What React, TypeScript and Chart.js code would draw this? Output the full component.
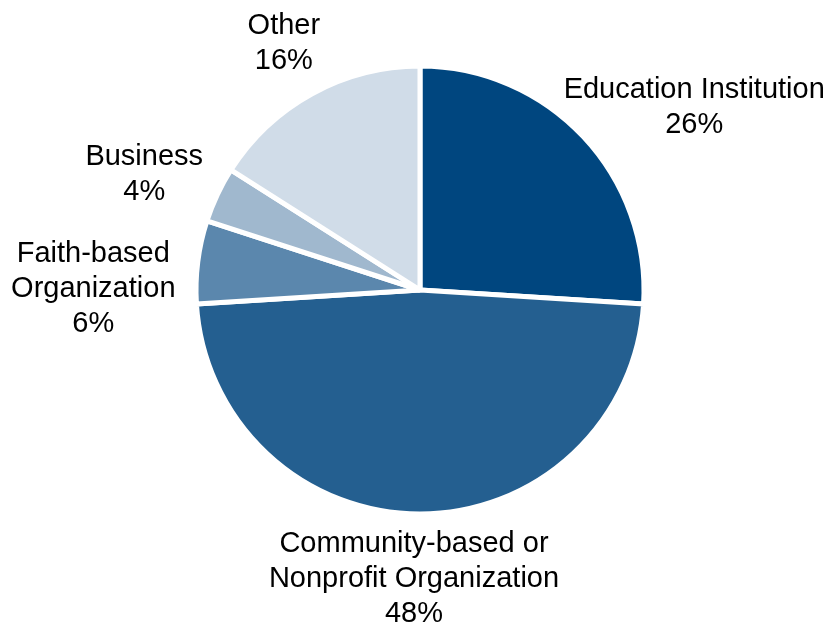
import React, { useEffect, useRef } from "react";
import { Chart, registerables } from "chart.js";

Chart.register(...registerables);

const categories: string[][] = [
  ["Education Institution"],
  ["Community-based or", "Nonprofit Organization"],
  ["Faith-based", "Organization"],
  ["Business"],
  ["Other"],
];
const shares: number[] = [26, 48, 6, 4, 16];
const sliceColors: string[] = ["#00467f", "#245f90", "#5b87ad", "#a0b8ce", "#d0dce8"];

// small per-label nudges (layout only)
const labelNudge: [number, number][] = [
  [7, 3],
  [-6, 0],
  [-11, 35],
  [-9, 0],
  [-5, -9],
];

const FONT = '29px "Liberation Sans", Arial, sans-serif';
const LINE_H = 35;

const outsideLabels = {
  id: "outsideLabels",
  afterDraw(chart: any) {
    const ctx = chart.ctx;
    const meta = chart.getDatasetMeta(0);
    ctx.save();
    ctx.font = FONT;
    ctx.fillStyle = "#000000";
    ctx.textAlign = "center";
    ctx.textBaseline = "middle";
    meta.data.forEach((arc: any, i: number) => {
      const { x, y, startAngle, endAngle, outerRadius } = arc.getProps(
        ["x", "y", "startAngle", "endAngle", "outerRadius"],
        true
      );
      const a = (startAngle + endAngle) / 2;
      const lines = [...categories[i], shares[i] + "%"];
      const w = Math.max(...lines.map((l) => ctx.measureText(l).width));
      const h = lines.length * LINE_H;
      const R = outerRadius - 3 + 15;
      const ax = x + Math.cos(a) * R;
      const ay = y + Math.sin(a) * R;
      const bx = ax + (Math.cos(a) * w) / 2 + labelNudge[i][0];
      const by = ay + (Math.sin(a) * h) / 2 + labelNudge[i][1];
      lines.forEach((l, k) => {
        ctx.fillText(l, bx, by - h / 2 + LINE_H / 2 + k * LINE_H);
      });
    });
    ctx.restore();
  },
};

export default function App() {
  const ref = useRef<HTMLCanvasElement | null>(null);
  useEffect(() => {
    document.body.style.margin = "0";
    const chart = new Chart(ref.current as HTMLCanvasElement, {
      type: "pie",
      data: {
        labels: categories.map((c) => c.join(" ")),
        datasets: [
          {
            data: shares,
            backgroundColor: sliceColors,
            borderColor: "#ffffff",
            borderWidth: 5,
          },
        ],
      },
      options: {
        responsive: false,
        animation: false,
        radius: 224,
        layout: { padding: { left: 10, right: 0, top: 0, bottom: 43 } },
        plugins: {
          legend: { display: false },
          tooltip: { enabled: false },
        },
      } as any,
      plugins: [outsideLabels],
    });
    return () => chart.destroy();
  }, []);
  return (
    <div style={{ position: "absolute", left: 0, top: 0, width: 830, height: 623, background: "#ffffff" }}>
      <canvas ref={ref} width={830} height={623} style={{ display: "block" }} />
    </div>
  );
}
